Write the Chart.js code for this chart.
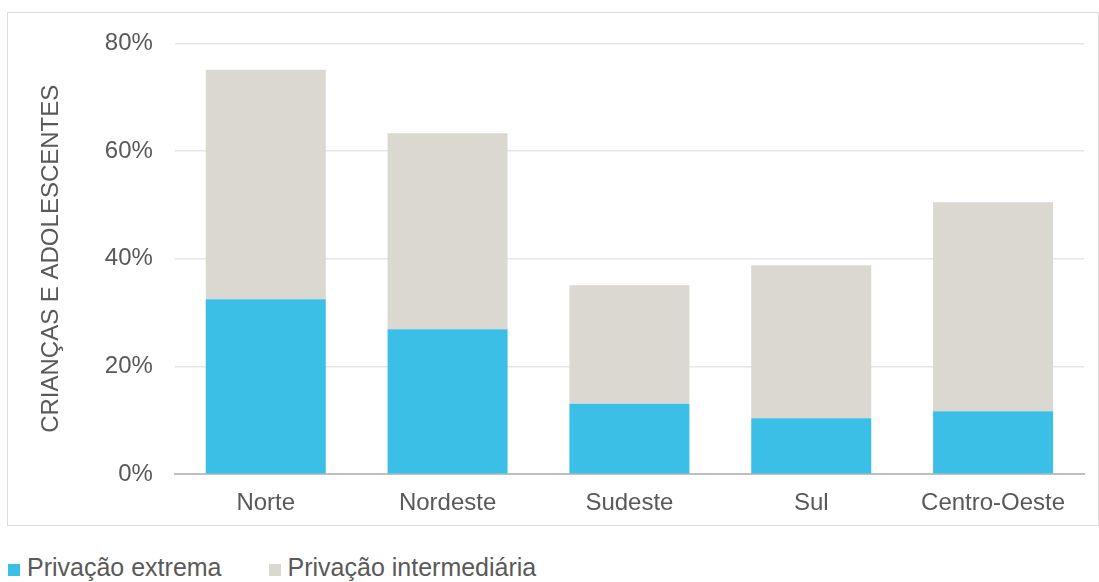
<!DOCTYPE html>
<html>
<head>
<meta charset="utf-8">
<script src="https://cdn.jsdelivr.net/npm/chart.js@4/dist/chart.umd.min.js"></script>
<style>
    body { margin: 0; background: #fff; width: 1099px; height: 582px; overflow: hidden; font-family: "Liberation Sans", Arial, sans-serif; }
    .frame { position: absolute; left: 7px; top: 12px; width: 1090px; height: 512px; border: 1px solid #dcdcdc; overflow: hidden; }
    .frame canvas { display: block; position: relative; top: -6px; }
    #legend { position: absolute; left: 8px; top: 552px; display: flex; color: #595959; font-size: 25px; line-height: 30px; }
    #legend .item { display: flex; align-items: center; margin-right: 47px; }
    #legend .box { width: 12px; height: 12px; margin-right: 7px; margin-top: 5px; }
</style>
</head>
<body>
<div class="frame">
    <canvas id="chart" width="1090" height="518"></canvas>
</div>
<div id="legend"></div>
<script>
// Data
const regions = ['Norte', 'Nordeste', 'Sudeste', 'Sul', 'Centro-Oeste'];
const extrema = [32.5, 26.9, 13.1, 10.4, 11.7];
const intermediaria = [42.6, 36.4, 22.0, 28.4, 38.8];
const seriesNames = ['Privação extrema', 'Privação intermediária'];
const yTicks = [0, 20, 40, 60, 80];

const textColor = '#595959';
const fontFamily = '"Liberation Sans", Arial, sans-serif';

const chart = new Chart(document.getElementById('chart'), {
    type: 'bar',
    data: {
        labels: regions,
        datasets: [{
            label: seriesNames[0],
            data: extrema,
            backgroundColor: '#3bbfe6',
            barPercentage: 0.66,
            categoryPercentage: 1
        }, {
            label: seriesNames[1],
            data: intermediaria,
            backgroundColor: '#dbd7d1',
            barPercentage: 0.66,
            categoryPercentage: 1
        }]
    },
    options: {
        responsive: false,
        animation: false,
        layout: {
            padding: { left: 25, right: 14, top: 10, bottom: -8 }
        },
        plugins: {
            legend: { display: false },
            tooltip: { enabled: false }
        },
        scales: {
            x: {
                stacked: true,
                grid: { display: false, drawTicks: false },
                border: { color: '#bfbfbf', width: 2 },
                ticks: {
                    color: textColor,
                    padding: 15,
                    font: { family: fontFamily, size: 24 }
                }
            },
            y: {
                stacked: true,
                min: 0,
                max: 80,
                afterBuildTicks: (axis) => {
                    axis.ticks = yTicks.map(v => ({ value: v }));
                },
                grid: { color: '#e6e6e6', lineWidth: 1.5, drawTicks: false },
                border: { display: false },
                ticks: {
                    color: textColor,
                    padding: 22,
                    font: { family: fontFamily, size: 24 },
                    callback: (v) => v + '%'
                },
                title: {
                    display: true,
                    text: 'CRIANÇAS E ADOLESCENTES',
                    color: textColor,
                    font: { family: fontFamily, size: 24 },
                    padding: { top: 4, bottom: 17 }
                }
            }
        }
    }
});

// HTML legend built from the chart datasets
const legendEl = document.getElementById('legend');
legendEl.innerHTML = chart.data.datasets.map(ds => `
    <div class="item">
        <span class="box" style="background:${ds.backgroundColor}"></span>
        <span>${ds.label}</span>
    </div>
`).join('');
</script>
</body>
</html>
